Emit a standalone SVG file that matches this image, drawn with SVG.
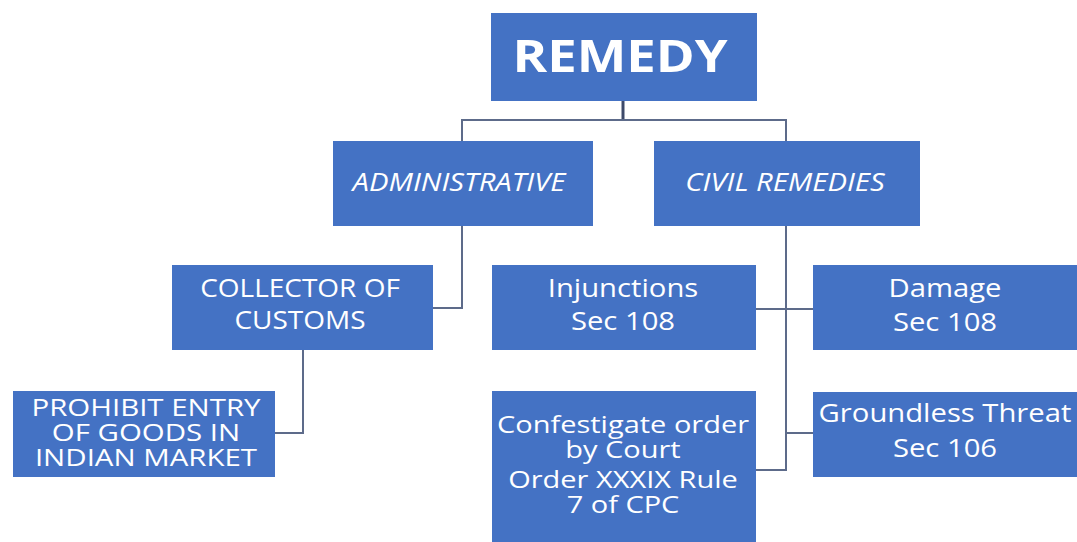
<svg xmlns="http://www.w3.org/2000/svg" width="1077" height="542" viewBox="0 0 1077 542">
<style>
.box{fill:#4472C4}
.t{font-family:"Open Sans","Liberation Sans",sans-serif;font-size:25px;fill:#ffffff;text-anchor:middle}
.s{font-size:23px}
.b{font-weight:bold;font-size:45px}
.i{font-style:italic}
.c{fill:none;stroke:#5d6b8a;stroke-width:2}
.c0{fill:none;stroke:#3d4a6a;stroke-width:3}
</style>
<rect width="1077" height="542" fill="#ffffff"/>
<g id="connectors">
<path class="c0" d="M623,101 V121"/>
<path class="c" d="M462,141 V120 H786 V141"/>
<path class="c" d="M462,226 V308 H433"/>
<path class="c" d="M303,350 V433 H275"/>
<path class="c" d="M786,226 V470 H756"/>
<path class="c" d="M756,309 H813"/>
<path class="c" d="M786,433 H813"/>
</g>
<g id="remedy">
<rect class="box" x="491" y="13" width="266" height="88"/>
<text class="t b" transform="translate(620 0) scale(1.17 1)" x="0" y="72">REMEDY</text>
</g>
<g id="administrative">
<rect class="box" x="333" y="141" width="260" height="85"/>
<text class="t i" transform="translate(459 0) scale(1.17 1)" x="0" y="191">ADMINISTRATIVE</text>
</g>
<g id="civil">
<rect class="box" x="654" y="141" width="266" height="85"/>
<text class="t i" transform="translate(785 0) scale(1.17 1)" x="0" y="191">CIVIL REMEDIES</text>
</g>
<g id="collector">
<rect class="box" x="172" y="265" width="261" height="85"/>
<text class="t" transform="translate(300 0) scale(1.12 1)" x="0" y="297">COLLECTOR OF</text>
<text class="t" transform="translate(300 0) scale(1.12 1)" x="0" y="329">CUSTOMS</text>
</g>
<g id="prohibit">
<rect class="box" x="13" y="391" width="262" height="86"/>
<text class="t s" transform="translate(146 0) scale(1.28 1)" x="0" y="416">PROHIBIT ENTRY</text>
<text class="t s" transform="translate(146 0) scale(1.28 1)" x="0" y="441">OF GOODS IN</text>
<text class="t s" transform="translate(146 0) scale(1.28 1)" x="0" y="466">INDIAN MARKET</text>
</g>
<g id="injunctions">
<rect class="box" x="492" y="265" width="264" height="85"/>
<text class="t" transform="translate(623 0) scale(1.17 1)" x="0" y="297">Injunctions</text>
<text class="t" transform="translate(623 0) scale(1.17 1)" x="0" y="330">Sec 108</text>
</g>
<g id="damage">
<rect class="box" x="813" y="265" width="264" height="85"/>
<text class="t" transform="translate(945 0) scale(1.17 1)" x="0" y="297">Damage</text>
<text class="t" transform="translate(945 0) scale(1.17 1)" x="0" y="331">Sec 108</text>
</g>
<g id="groundless">
<rect class="box" x="813" y="392" width="264" height="85"/>
<text class="t" transform="translate(945 0) scale(1.17 1)" x="0" y="422">Groundless Threat</text>
<text class="t" transform="translate(945 0) scale(1.17 1)" x="0" y="457">Sec 106</text>
</g>
<g id="confestigate">
<rect class="box" x="492" y="391" width="264" height="151"/>
<text class="t s" transform="translate(623 0) scale(1.26 1)" x="0" y="433">Confestigate order</text>
<text class="t s" transform="translate(623 0) scale(1.26 1)" x="0" y="458">by Court</text>
<text class="t s" transform="translate(623 0) scale(1.26 1)" x="0" y="488">Order XXXIX Rule</text>
<text class="t s" transform="translate(623 0) scale(1.26 1)" x="0" y="513">7 of CPC</text>
</g>
</svg>
